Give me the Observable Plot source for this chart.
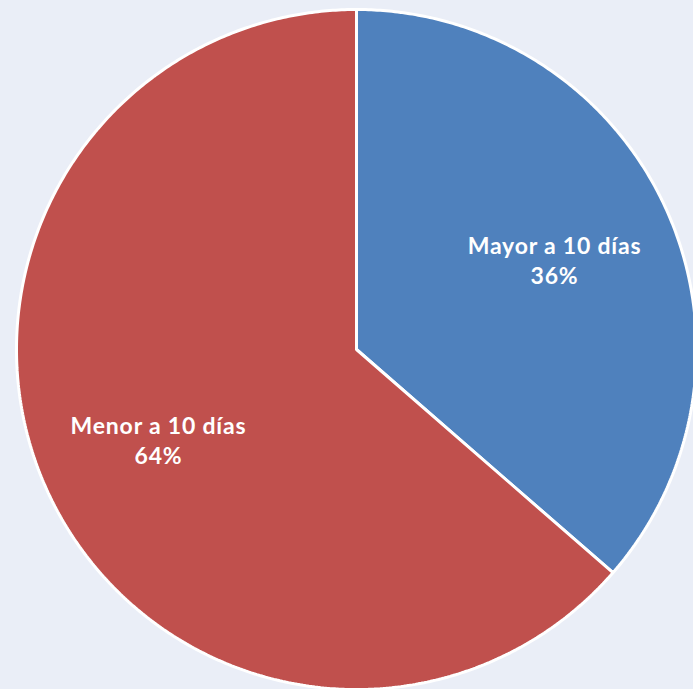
<!DOCTYPE html>
<html><head><meta charset="utf-8">
<script src="https://cdn.jsdelivr.net/npm/d3@7"></script>
<script src="https://cdn.jsdelivr.net/npm/@observablehq/plot@0.6"></script>
<style>html,body{margin:0;padding:0;background:#EAEEF7;overflow:hidden;}</style>
</head><body><div id="chart"></div>
<script>
const categories = ["Mayor a 10 días", "Menor a 10 días"];
const values = [36.4, 63.6];
const colors = ["#4F81BD", "#C0504D"];

const slices = d3.pie().sort(null).value(d => d.value)(
  categories.map((c, i) => ({category: c, value: values[i]}))
);

// slice outlines built from d3.pie angles (geometry only)
const outline = [];
for (const s of slices) {
  const n = Math.max(2, Math.ceil((s.endAngle - s.startAngle) / (Math.PI / 360)));
  outline.push({category: s.data.category, x: 0, y: 0});
  for (let k = 0; k <= n; k++) {
    const a = s.startAngle + (s.endAngle - s.startAngle) * k / n;
    outline.push({category: s.data.category, x: Math.sin(a), y: Math.cos(a)});
  }
  outline.push({category: s.data.category, x: 0, y: 0});
}

const labelR = 0.64;
const labels = slices.map(s => {
  const a = (s.startAngle + s.endAngle) / 2;
  return {category: s.data.category, value: Math.round(s.data.value), x: labelR * Math.sin(a), y: labelR * Math.cos(a)};
});

const chart = Plot.plot({
  width: 693, height: 689, margin: 0,
  style: {background: "transparent", overflow: "visible"},
  x: {domain: [-1, 1], range: [16, 696], axis: null},
  y: {domain: [-1, 1], range: [689, 9], axis: null},
  color: {domain: categories, range: colors},
  marks: [
    Plot.line(outline, {x: "x", y: "y", z: "category", fill: "category", stroke: "white", strokeWidth: 3, strokeLinejoin: "miter"}),
    Plot.text(labels, {x: "x", y: "y", text: d => `${d.category}\n${d.value}%`, fill: "white",
      fontSize: 23, fontWeight: "bold", fontFamily: "Lato", lineHeight: 1.3,
      style: "letter-spacing:0.8px"})
  ]
});
chart.querySelectorAll("text").forEach(t => t.style.letterSpacing = "0.8px");
document.getElementById("chart").append(chart);
</script>
</body></html>
